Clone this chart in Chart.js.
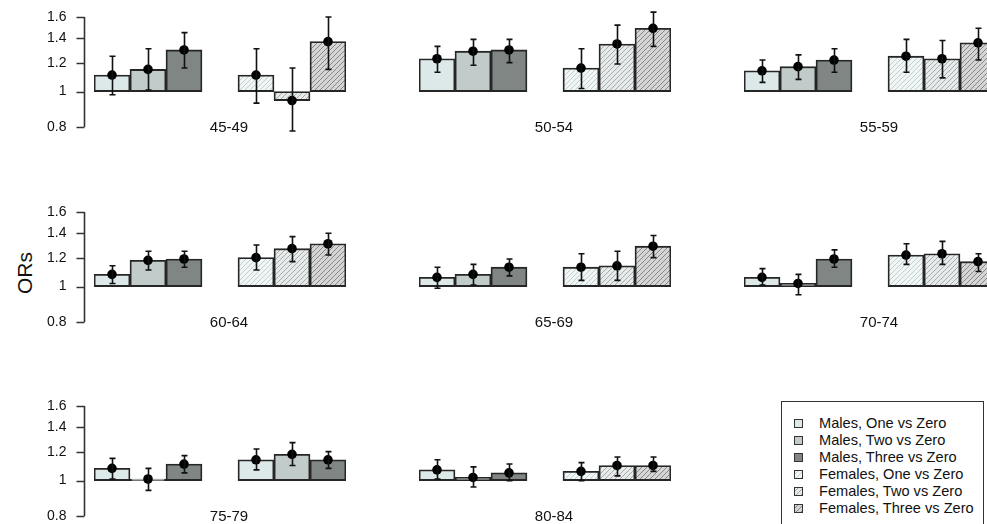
<!DOCTYPE html>
<html>
<head>
<meta charset="utf-8">
<script src="https://cdn.jsdelivr.net/npm/chart.js@4.4.1/dist/chart.umd.min.js"></script>
<style>
  html, body { margin: 0; padding: 0; background: #fff; }
  body { width: 987px; height: 524px; position: relative; overflow: hidden;
         font-family: "Liberation Sans", Arial, sans-serif; color: #111; }
  canvas.panel { position: absolute; }
  #ylab { position: absolute; left: 25px; top: 273px; font-size: 21px;
          transform: translate(-50%, -50%) rotate(-90deg); white-space: nowrap; }
  #legend { position: absolute; left: 781px; top: 401px; width: 203px; height: 140px;
            border: 1px solid #333; box-sizing: border-box; }
  .leg { position: absolute; left: 0; height: 17px; line-height: 17px; font-size: 14.6px; white-space: nowrap; }
  .leg canvas { position: absolute; left: 12px; top: 4px; }
  .leg span { position: absolute; left: 37px; top: 0; }
</style>
</head>
<body>
<div id="ylab">ORs</div>
<div id="legend"></div>
<script>
// Age bands, one panel each
const ageGroups = ['45-49', '50-54', '55-59', '60-64', '65-69', '70-74', '75-79', '80-84'];
const seriesNames = ['Males, One vs Zero', 'Males, Two vs Zero', 'Males, Three vs Zero',
                     'Females, One vs Zero', 'Females, Two vs Zero', 'Females, Three vs Zero'];
const yTicks = [0.8, 1, 1.2, 1.4, 1.6];

// Odds ratios and confidence limits, per series across the age bands
const maleOne      = [1.11, 1.23, 1.14, 1.08, 1.06, 1.06, 1.08, 1.07];
const maleOneLo    = [0.98, 1.13, 1.06, 1.02, 0.99, 1.01, 1.01, 1.01];
const maleOneHi    = [1.25, 1.33, 1.22, 1.14, 1.13, 1.12, 1.15, 1.14];
const maleTwo      = [1.15, 1.29, 1.17, 1.18, 1.08, 1.02, 1.01, 1.02];
const maleTwoLo    = [1.01, 1.18, 1.08, 1.11, 1.01, 0.95, 0.94, 0.96];
const maleTwoHi    = [1.31, 1.39, 1.26, 1.25, 1.15, 1.08, 1.08, 1.09];
const maleThree    = [1.30, 1.30, 1.22, 1.19, 1.13, 1.19, 1.11, 1.05];
const maleThreeLo  = [1.16, 1.20, 1.13, 1.13, 1.07, 1.13, 1.05, 1.00];
const maleThreeHi  = [1.45, 1.39, 1.31, 1.25, 1.19, 1.26, 1.17, 1.11];
const femOne       = [1.11, 1.16, 1.25, 1.20, 1.13, 1.22, 1.14, 1.06];
const femOneLo     = [0.93, 1.02, 1.13, 1.11, 1.04, 1.15, 1.07, 1.00];
const femOneHi     = [1.31, 1.31, 1.39, 1.30, 1.23, 1.31, 1.22, 1.12];
const femTwo       = [0.945, 1.35, 1.23, 1.27, 1.14, 1.23, 1.18, 1.10];
const femTwoLo     = [0.78, 1.19, 1.09, 1.17, 1.04, 1.15, 1.10, 1.03];
const femTwoHi     = [1.16, 1.52, 1.38, 1.37, 1.25, 1.33, 1.27, 1.16];
const femThree     = [1.37, 1.49, 1.36, 1.31, 1.29, 1.17, 1.14, 1.10];
const femThreeLo   = [1.15, 1.33, 1.22, 1.22, 1.20, 1.10, 1.08, 1.06];
const femThreeHi   = [1.60, 1.65, 1.49, 1.40, 1.38, 1.23, 1.20, 1.16];

const est = [maleOne, maleTwo, maleThree, femOne, femTwo, femThree];
const lo  = [maleOneLo, maleTwoLo, maleThreeLo, femOneLo, femTwoLo, femThreeLo];
const hi  = [maleOneHi, maleTwoHi, maleThreeHi, femOneHi, femTwoHi, femThreeHi];

// ---- styling ----
const FONT = '"Liberation Sans", Arial, sans-serif';
const TEXT = '#111';
const EDGE = '#262626';

function hatch(bg, line, step) {
  const c = document.createElement('canvas');
  c.width = c.height = step;
  const x = c.getContext('2d');
  x.fillStyle = bg; x.fillRect(0, 0, step, step);
  x.strokeStyle = line; x.lineWidth = 1;
  x.beginPath();
  x.moveTo(-1, step + 1); x.lineTo(step + 1, -1);
  x.moveTo(-1, 1); x.lineTo(1, -1);
  x.moveTo(step - 1, step + 1); x.lineTo(step + 1, step - 1);
  x.stroke();
  return x.createPattern(c, 'repeat');
}

const maleFills = ['#dde9e9', '#c0cbca', '#7f8684'];
const femaleFills = [hatch('#f0f5f5', '#c3cfcf', 5), hatch('#e7eaea', '#a6abab', 5), hatch('#d5d5d5', '#878787', 5)];
const seriesFills = maleFills.concat(femaleFills);
// the 75-79 band has its female bars in plain fills
const plainFemaleBand = '75-79';

// panel placement: chart-area left edge per column, top edge per row
const colLeft = [94, 419, 744];
const rowTop = [17, 212, 406];
const PLOT_W = 252, PLOT_H = 110, PAD_L = 94, PAD_R = 10, PAD_B = 30;

const errorBars = {
  id: 'errorBars',
  afterDatasetsDraw(chart, args, opts) {
    const ctx = chart.ctx, y = chart.scales.y;
    const meta = chart.getDatasetMeta(0);
    ctx.save();
    ctx.strokeStyle = '#111';
    ctx.lineWidth = 1.6;
    meta.data.forEach((el, i) => {
      const k = opts.slot[i];
      if (k < 0) return;
      const x = Math.round(el.x) + 0.5;
      const yh = y.getPixelForValue(opts.hi[k]);
      const yl = y.getPixelForValue(opts.lo[k]);
      ctx.beginPath();
      ctx.moveTo(x, yh); ctx.lineTo(x, yl);
      ctx.moveTo(x - 3, yh); ctx.lineTo(x + 3, yh);
      ctx.moveTo(x - 3, yl); ctx.lineTo(x + 3, yl);
      ctx.stroke();
    });
    ctx.restore();
  }
};

const panelDecor = {
  id: 'panelDecor',
  afterDraw(chart, args, opts) {
    const ctx = chart.ctx, a = chart.chartArea, y = chart.scales.y;
    ctx.save();
    ctx.fillStyle = TEXT;
    ctx.font = '15px ' + FONT;
    ctx.textAlign = 'center';
    ctx.textBaseline = 'middle';
    ctx.fillText(opts.label, (a.left + a.right) / 2 + 9, a.bottom + 1);
    if (opts.axis) {
      const ax = a.left - 9.5;
      ctx.strokeStyle = '#333';
      ctx.lineWidth = 1.6;
      ctx.beginPath();
      ctx.moveTo(ax, y.getPixelForValue(yTicks[yTicks.length - 1]));
      ctx.lineTo(ax, y.getPixelForValue(yTicks[0]));
      yTicks.forEach(t => {
        const ty = Math.round(y.getPixelForValue(t)) + 0.5;
        ctx.moveTo(ax, ty); ctx.lineTo(ax - 8, ty);
      });
      ctx.stroke();
      ctx.font = '14px ' + FONT;
      ctx.textAlign = 'right';
      yTicks.forEach(t => {
        ctx.fillText(String(t), ax - 18, y.getPixelForValue(t));
      });
    }
    ctx.restore();
  }
};

ageGroups.forEach((band, p) => {
  const col = p % 3, row = Math.floor(p / 3);
  const cv = document.createElement('canvas');
  cv.className = 'panel';
  cv.width = PAD_L + PLOT_W + PAD_R;
  cv.height = rowTop[0] + PLOT_H + PAD_B;
  cv.style.left = (colLeft[col] - PAD_L) + 'px';
  cv.style.top = (rowTop[row] - rowTop[0]) + 'px';
  document.body.appendChild(cv);

  // seven slots: three male bars, an empty slot, three female bars
  const slot = [0, 1, 2, -1, 3, 4, 5];
  const bars = slot.map(k => k < 0 ? null : [1, est[k][p]]);
  const points = slot.map(k => k < 0 ? null : est[k][p]);
  const fills = slot.map(k => {
    if (k < 0) return 'rgba(0,0,0,0)';
    if (k >= 3 && band === plainFemaleBand) return maleFills[k - 3];
    return seriesFills[k];
  });

  new Chart(cv, {
    type: 'bar',
    data: {
      labels: slot.map(k => k < 0 ? '' : seriesNames[k]),
      datasets: [
        {
          type: 'bar', data: bars, order: 2,
          backgroundColor: fills, borderColor: EDGE, borderWidth: 1.8,
          borderSkipped: false, categoryPercentage: 1, barPercentage: 1
        },
        {
          type: 'line', data: points, order: 1, showLine: false,
          pointRadius: 4.8, pointBackgroundColor: '#000', pointBorderColor: '#000',
          pointBorderWidth: 0
        }
      ]
    },
    options: {
      responsive: false,
      animation: false,
      devicePixelRatio: 1,
      layout: { padding: { left: PAD_L, right: PAD_R, top: rowTop[0], bottom: PAD_B } },
      scales: {
        x: { display: false },
        y: { type: 'logarithmic', display: false, min: 0.8, max: 1.6 }
      },
      plugins: {
        legend: { display: false },
        tooltip: { enabled: false },
        errorBars: { slot: slot, lo: lo.map(s => s[p]), hi: hi.map(s => s[p]) },
        panelDecor: { label: band, axis: col === 0 }
      }
    },
    plugins: [errorBars, panelDecor]
  });
});

// legend
const legend = document.getElementById('legend');
seriesNames.forEach((name, i) => {
  const row = document.createElement('div');
  row.className = 'leg';
  row.style.top = (12.5 + i * 17.1) + 'px';
  row.style.width = '100%';
  const sw = document.createElement('canvas');
  sw.width = 9; sw.height = 9;
  const c = sw.getContext('2d');
  c.fillStyle = seriesFills[i];
  c.fillRect(0, 0, 9, 9);
  c.strokeStyle = '#333'; c.lineWidth = 1;
  c.strokeRect(0.5, 0.5, 8, 8);
  const tx = document.createElement('span');
  tx.textContent = name;
  row.appendChild(sw); row.appendChild(tx);
  legend.appendChild(row);
});
</script>
</body>
</html>
